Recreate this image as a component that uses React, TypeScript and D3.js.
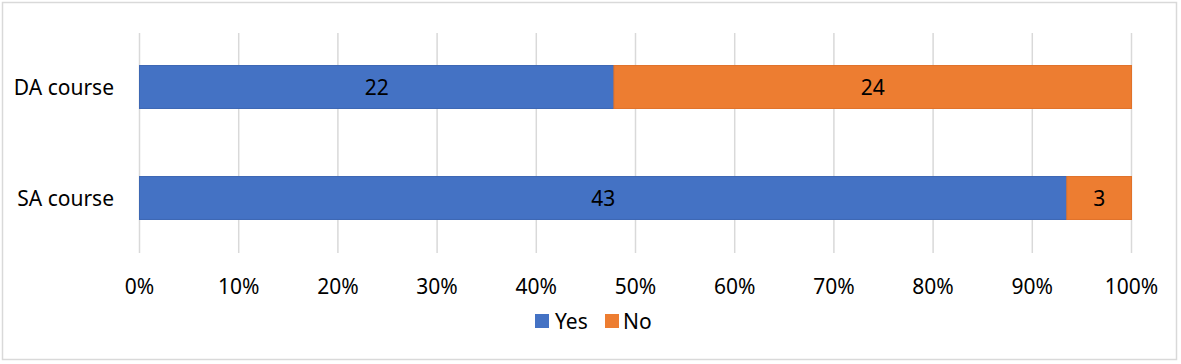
import React from "react";
import * as d3 from "d3";

const categories = ["DA course", "SA course"];
const seriesNames = ["Yes", "No"];
const yesValues = [22, 43];
const noValues = [24, 3];
const colors = ["#4472C4", "#ED7D31"];
const strokeColors = ["#3d67b3", "#e0722a"];
const tickValues = [0, 0.1, 0.2, 0.3, 0.4, 0.5, 0.6, 0.7, 0.8, 0.9, 1];

const W = 1181;
const H = 364;
const FONT = "'Noto Sans', sans-serif";

export default function App() {
  const x = d3.scaleLinear().domain([0, 1]).range([139.5, 1131.5]);
  const y = d3.scaleBand().domain(categories).range([32, 253]).paddingInner(0.613).paddingOuter(0.302);
  const rows = categories.map((c, i) => ({ cat: c, Yes: yesValues[i], No: noValues[i] }));
  const stack = d3.stack<any>().keys(seriesNames).offset(d3.stackOffsetExpand);
  const layers = stack(rows);
  const fmt = d3.format(".0%");

  return (
    <svg width={W} height={H} style={{ position: "absolute", left: 0, top: 0 }}>
      <rect x={2.5} y={2.5} width={1174} height={357} fill="#fff" stroke="#d9d9d9" strokeWidth={1.5} />
      {tickValues.map((t) => (
        <line key={t} x1={x(t)} x2={x(t)} y1={33} y2={253} stroke="#d9d9d9" strokeWidth={1.5} />
      ))}
      {layers.map((layer, li) => (
        <g key={layer.key}>
          {layer.map((d, i) => {
            const x0 = x(d[0]);
            const x1 = x(d[1]);
            const yy = y(categories[i])!;
            const bh = y.bandwidth();
            const val = li === 0 ? yesValues[i] : noValues[i];
            return (
              <g key={i}>
                <rect x={x0} y={yy} width={x1 - x0} height={bh} fill={colors[li]} stroke={strokeColors[li]} strokeWidth={1} />
                <text x={(x0 + x1) / 2} y={yy + bh / 2} textAnchor="middle" dominantBaseline="central" fontFamily={FONT} fontSize={21} fill="#000">
                  {val}
                </text>
              </g>
            );
          })}
        </g>
      ))}
      {categories.map((c) => (
        <text key={c} x={114} y={y(c)! + y.bandwidth() / 2} textAnchor="end" dominantBaseline="central" fontFamily={FONT} fontSize={21} fill="#000">
          {c}
        </text>
      ))}
      {tickValues.map((t) => (
        <text key={t} x={x(t)} y={286} textAnchor="middle" dominantBaseline="central" fontFamily={FONT} fontSize={21} fill="#000">
          {fmt(t)}
        </text>
      ))}
      <g>
        <rect x={535} y={314} width={14} height={14} fill={colors[0]} />
        <text x={555} y={321} dominantBaseline="central" fontFamily={FONT} fontSize={21} fill="#000">{seriesNames[0]}</text>
        <rect x={605} y={314} width={14} height={14} fill={colors[1]} />
        <text x={623} y={321} dominantBaseline="central" fontFamily={FONT} fontSize={21} fill="#000">{seriesNames[1]}</text>
      </g>
    </svg>
  );
}
